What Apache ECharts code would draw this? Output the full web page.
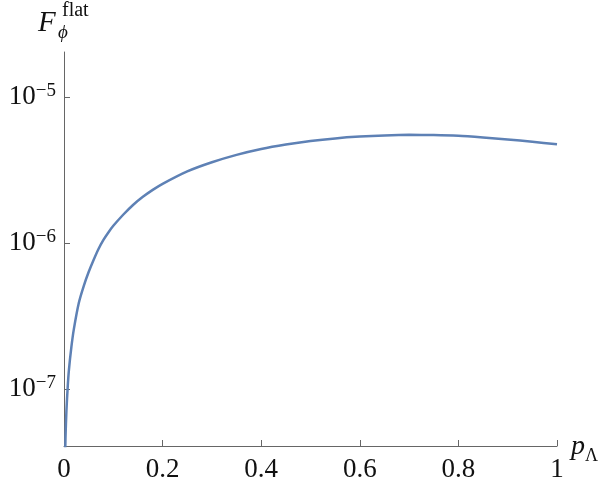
<!DOCTYPE html>
<html>
<head>
<meta charset="utf-8">
<script src="https://cdn.jsdelivr.net/npm/echarts@6/dist/echarts.min.js"></script>
<style>
  html, body { margin: 0; padding: 0; background: #fff; }
  #chart { width: 603px; height: 492px; }
</style>
</head>
<body>
<div id="chart"></div>
<script>
// values
const pLambda = [0.002, 0.003, 0.005, 0.0075, 0.01, 0.015, 0.02, 0.03, 0.04, 0.05, 0.06, 0.07, 0.08, 0.09,
  0.1, 0.12, 0.14, 0.16, 0.18, 0.2, 0.25, 0.3, 0.35, 0.4, 0.45, 0.5, 0.55, 0.6, 0.65, 0.7, 0.75, 0.8, 0.85, 0.9, 0.95, 1.0]
const fFlat = [3.0e-8, 4.6e-8, 7.2e-8, 1.03e-7, 1.35e-7, 1.94e-7, 2.57e-7, 3.88e-7, 5.07e-7, 6.32e-7, 7.65e-7, 9.10e-7, 1.05e-6, 1.18e-6,
  1.31e-6, 1.56e-6, 1.82e-6, 2.07e-6, 2.31e-6, 2.54e-6, 3.09e-6, 3.57e-6, 4.01e-6, 4.40e-6, 4.72e-6, 4.99e-6, 5.20e-6, 5.35e-6, 5.45e-6,
  5.50e-6, 5.48e-6, 5.41e-6, 5.27e-6, 5.11e-6, 4.93e-6, 4.74e-6]
const yTicks = [1e-7, 1e-6, 1e-5]

const serif = "'Liberation Serif', 'DejaVu Serif', serif"
const axisColor = '#666'

const chart = echarts.init(document.getElementById('chart'), null, { renderer: 'canvas' })

const option = {
  animation: false,
  backgroundColor: '#fff',
  grid: { left: 64, right: 46, top: 52, bottom: 46 },
  xAxis: {
    type: 'value',
    min: 0,
    max: 1,
    interval: 0.2,
    axisLine: { lineStyle: { color: axisColor, width: 1 } },
    axisTick: { inside: true, length: 6, lineStyle: { color: axisColor } },
    splitLine: { show: false },
    axisLabel: {
      margin: 10,
      color: '#111',
      fontFamily: serif,
      fontSize: 27
    }
  },
  yAxis: {
    type: 'log',
    logBase: 10,
    min: 4.07e-8,
    max: 2.03e-5,
    axisLine: { show: true, onZero: false, lineStyle: { color: axisColor, width: 1 } },
    axisTick: { inside: true, length: 6, customValues: yTicks, lineStyle: { color: axisColor } },
    splitLine: { show: false },
    minorTick: { show: false },
    axisLabel: {
      customValues: yTicks,
      margin: 8,
      color: '#111',
      formatter: v => '{b|10}{s|\u2212' + Math.round(-Math.log10(v)) + '}',
      rich: {
        b: { fontFamily: serif, fontSize: 27, lineHeight: 30, color: '#111' },
        s: { fontFamily: serif, fontSize: 19, lineHeight: 19, verticalAlign: 'top', color: '#111' }
      }
    }
  },
  series: [{
    type: 'line',
    data: pLambda.map((p, i) => [p, fFlat[i]]),
    showSymbol: false,
    smooth: 0.25,
    clip: true,
    lineStyle: { color: '#5E81B5', width: 2.5 }
  }],
  graphic: [
    { type: 'text', x: 38, y: 23, style: { text: 'F', font: 'italic 29px ' + serif, fill: '#111', textVerticalAlign: 'middle' } },
    { type: 'text', x: 58, y: 33, style: { text: '\u03d5', font: 'italic 19px ' + serif, fill: '#111', textVerticalAlign: 'middle' } },
    { type: 'text', x: 62, y: 11, style: { text: 'flat', font: '20px ' + serif, fill: '#111', textVerticalAlign: 'middle' } },
    { type: 'text', x: 571, y: 447, style: { text: 'p', font: 'italic 28px ' + serif, fill: '#111', textVerticalAlign: 'middle' } },
    { type: 'text', x: 585, y: 456, style: { text: '\u039b', font: '18px ' + serif, fill: '#111', textVerticalAlign: 'middle' } }
  ]
}

chart.setOption(option)
</script>
</body>
</html>
